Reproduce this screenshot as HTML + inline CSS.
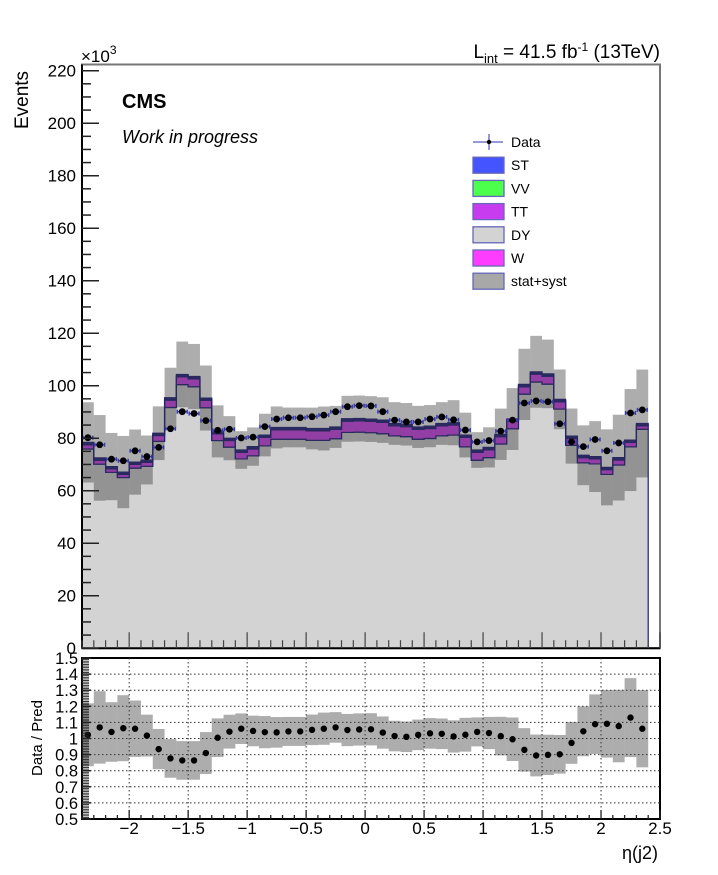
<!DOCTYPE html>
<html><head><meta charset="utf-8"><style>
html,body{margin:0;padding:0;background:#fff}
svg{display:block;font-family:"Liberation Sans",Arial,sans-serif}
</style></head><body>
<svg id="chart" width="718" height="875" viewBox="0 0 718 875">
<g id="main"></g>
<g id="ratio"></g>
<text x="28" y="100" transform="rotate(-90 28 100)" font-size="19" text-anchor="middle">Events</text>
<text x="81" y="62" font-size="17">×10<tspan dy="-8" font-size="12">3</tspan></text>
<text x="122" y="108" font-size="20" font-weight="bold">CMS</text>
<text x="122" y="143" font-size="18" font-style="italic">Work in progress</text>
<text x="660" y="58" font-size="19" text-anchor="end">L<tspan dy="5" font-size="13">int</tspan><tspan dy="-5"> = 41.5 fb</tspan><tspan dy="-7" font-size="12">-1</tspan><tspan dy="7"> (13TeV)</tspan></text>
<text x="42" y="738" transform="rotate(-90 42 738)" font-size="15" text-anchor="middle">Data / Pred</text>
<text x="658" y="859" font-size="18" text-anchor="end">η(j2)</text>
<g id="legend"></g>
</svg>
<script>
const binLo = -2.4, binW = 0.1;
const dyVals = [75.9,70.1,67.0,65.0,68.6,69.3,78.8,91.7,100.4,99.6,91.6,79.1,76.6,72.1,73.3,77.1,79.6,79.6,79.6,79.2,79.2,79.8,82.2,82.3,82.1,81.7,80.9,80.6,79.6,79.9,80.9,81.2,76.7,71.6,72.6,77.8,83.6,96.8,101.4,100.6,91.1,77.3,70.6,70.2,66.2,69.8,76.7,83.4];
const ttVals = [1.6,1.5,1.3,1.2,1.4,1.5,2.2,2.8,3.0,3.0,2.8,2.6,2.5,2.5,2.6,3.2,3.6,3.6,3.6,3.6,3.6,3.6,4.3,4.3,4.3,4.3,3.8,3.8,3.8,3.8,3.8,3.8,3.6,3.0,3.0,2.8,2.8,2.8,3.0,3.0,2.8,2.6,2.0,1.9,1.8,1.9,1.7,1.3];
const vvVals = [0.4,0.4,0.4,0.4,0.4,0.4,0.4,0.4,0.4,0.4,0.4,0.4,0.4,0.4,0.4,0.4,0.4,0.4,0.4,0.4,0.4,0.4,0.4,0.4,0.4,0.4,0.4,0.4,0.4,0.4,0.4,0.4,0.4,0.4,0.4,0.4,0.4,0.4,0.4,0.4,0.4,0.4,0.4,0.4,0.4,0.4,0.4,0.4];
const stVals = [0.5,0.5,0.5,0.5,0.5,0.5,0.5,0.5,0.5,0.5,0.5,0.5,0.5,0.5,0.5,0.5,0.5,0.5,0.5,0.5,0.5,0.5,0.5,0.5,0.5,0.5,0.5,0.5,0.5,0.5,0.5,0.5,0.5,0.5,0.5,0.5,0.5,0.5,0.5,0.5,0.5,0.5,0.5,0.5,0.5,0.5,0.5,0.5];
const dataVals = [80.2,77.5,72.0,71.4,75.2,73.0,76.5,83.6,90.1,89.4,86.7,83.0,83.4,80.1,80.4,84.4,87.3,87.8,87.8,88.2,88.8,90.1,92.0,92.4,92.3,90.1,86.9,86.2,86.2,87.3,88.1,87.0,83.1,78.6,79.1,82.7,86.9,93.4,94.2,93.9,85.5,78.6,76.8,79.5,75.2,78.2,89.6,90.8];
const errFrac = [0.195,0.225,0.185,0.205,0.175,0.13,0.125,0.12,0.12,0.12,0.13,0.12,0.105,0.095,0.095,0.10,0.095,0.09,0.09,0.095,0.10,0.095,0.10,0.10,0.10,0.10,0.095,0.095,0.095,0.095,0.095,0.10,0.105,0.09,0.10,0.12,0.135,0.135,0.13,0.125,0.12,0.13,0.155,0.185,0.21,0.225,0.245,0.24];
const yTicks = [0,20,40,60,80,100,120,140,160,180,200,220];
const rTicks = [0.5,0.6,0.7,0.8,0.9,1,1.1,1.2,1.3,1.4,1.5];
const xTicks = [-2,-1.5,-1,-0.5,0,0.5,1,1.5,2,2.5];

const NS="http://www.w3.org/2000/svg";
const BAND="rgba(60,60,60,0.42)";
const X0=82,X1=660,XMIN=-2.4,XMAX=2.5;
const MT=64.5,MB=648.2,YMAX=(648.2-64.5)/2.625;
const RT=658,RB=819,RMIN=0.5,RMAX=1.5;
const xs=v=>X0+(v-XMIN)/(XMAX-XMIN)*(X1-X0);
const ys=v=>MB-v/YMAX*(MB-MT);
const rs=v=>RB-(v-RMIN)/(RMAX-RMIN)*(RB-RT);
function mk(tag,attrs,parent){const e=document.createElementNS(NS,tag);for(const k in attrs)e.setAttribute(k,attrs[k]);parent.appendChild(e);return e;}
const main=document.getElementById('main'),ratio=document.getElementById('ratio'),legend=document.getElementById('legend');
const n=dyVals.length;
const cum=[dyVals.slice()];
[ttVals,vvVals,stVals].forEach(a=>{const p=cum[cum.length-1];cum.push(p.map((v,i)=>v+a[i]));});
const total=cum[cum.length-1];
function stepPath(lo,hi){
  let d='';
  for(let i=0;i<n;i++){const a=xs(binLo+i*binW),b=xs(binLo+(i+1)*binW);d+=(i?'L':'M')+a+','+ys(hi[i])+'L'+b+','+ys(hi[i]);}
  for(let i=n-1;i>=0;i--){const a=xs(binLo+i*binW),b=xs(binLo+(i+1)*binW);d+='L'+b+','+ys(lo?lo[i]:0)+'L'+a+','+ys(lo?lo[i]:0);}
  return d+'Z';
}
mk('rect',{x:X0,y:MT,width:X1-X0,height:MB-MT,fill:'#fff',stroke:'#777','stroke-width':2},main);
const comps=[[null,cum[0],'#d3d3d3','dy'],[cum[0],cum[1],'#d040f0','tt'],[cum[1],cum[2],'#2f6b3a','vv'],[cum[2],cum[3],'#3a3ab0','st']];
comps.forEach(c=>{const p=mk('path',{d:stepPath(c[0],c[1]),fill:c[2],stroke:'#1d1d7a','stroke-width':1.2},main);

});
for(let i=0;i<n;i++){
  const a=xs(binLo+i*binW),b=xs(binLo+(i+1)*binW);
  const hi=ys(total[i]*(1+errFrac[i])),lo=ys(total[i]*(1-errFrac[i]));
  const r=mk('rect',{x:a,y:hi,width:b-a,height:lo-hi,fill:BAND},main);
  
  
}
for(let i=0;i<n;i++){
  const a=xs(binLo+i*binW),b=xs(binLo+(i+1)*binW),c=(a+b)/2,y=ys(dataVals[i]);
  mk('line',{x1:a+1,x2:b-1,y1:y,y2:y,stroke:'#3b3bb0','stroke-width':1.5},main);
  mk('line',{x1:a+1,x2:a+1,y1:y-2,y2:y+2,stroke:'#3b3bb0','stroke-width':1.5},main);
  mk('line',{x1:b-1,x2:b-1,y1:y-2,y2:y+2,stroke:'#3b3bb0','stroke-width':1.5},main);
  const d=mk('circle',{cx:c,cy:y,r:3.4,fill:'#000'},main);
  
  
}
mk('line',{x1:X0,x2:X0,y1:MT,y2:MB,stroke:'#000','stroke-width':2},main);
mk('line',{x1:X0,x2:X1,y1:MB,y2:MB,stroke:'#000','stroke-width':2},main);
for(let v=0;v<=YMAX;v+=5){const y=ys(v);const maj=v%20===0;mk('line',{x1:X0,x2:X0+(maj?17:9),y1:y,y2:y,stroke:'#222','stroke-width':1.5},main);}
yTicks.forEach(v=>{const t=mk('text',{x:76,y:ys(v)+6,'font-size':17,'text-anchor':'end'},main);t.textContent=v;

});
for(let k=-24;k<=25;k++){const v=k/10,x=xs(v);const maj=k%5===0;mk('line',{x1:x,x2:x,y1:MB,y2:MB-(maj?16:8),stroke:'#444','stroke-width':1.2},main);}
// ratio
mk('rect',{x:X0,y:RT,width:X1-X0,height:RB-RT,fill:'#fff',stroke:'#000','stroke-width':2},ratio);
rTicks.forEach(v=>{if(v>0.5&&v<1.5)mk('line',{x1:X0,x2:X1,y1:rs(v),y2:rs(v),stroke:'#333','stroke-width':1,'stroke-dasharray':'1.5,2.5'},ratio);});
xTicks.forEach(v=>{if(v<2.5)mk('line',{x1:xs(v),x2:xs(v),y1:RT,y2:RB,stroke:'#333','stroke-width':1,'stroke-dasharray':'1.5,2.5'},ratio);});
for(let i=0;i<n;i++){
  const a=xs(binLo+i*binW),b=xs(binLo+(i+1)*binW),r=dataVals[i]/total[i];
  const hi=rs(Math.min(RMAX,r+errFrac[i])),lo=rs(Math.max(RMIN,r-errFrac[i]));
  const e=mk('rect',{x:a,y:hi,width:b-a,height:lo-hi,fill:BAND},ratio);
  
  
}
for(let i=0;i<n;i++){
  const c=xs(binLo+(i+0.5)*binW),r=dataVals[i]/total[i];
  const p=mk('circle',{cx:c,cy:rs(r),r:3.2,fill:'#000'},ratio);
  
  
}
for(let k=50;k<=150;k++){const y=rs(k/100);const maj=k%10===0;mk('line',{x1:X0,x2:X0+(maj?9:7),y1:y,y2:y,stroke:'#222','stroke-width':maj?1.5:0.9},ratio);}
rTicks.forEach(v=>{const t=mk('text',{x:78,y:rs(v)+6,'font-size':16.5,'text-anchor':'end'},ratio);t.textContent=(v===1?'1':v.toFixed(1));

});
for(let k=-24;k<=25;k++){const x=xs(k/10);const maj=k%5===0;mk('line',{x1:x,x2:x,y1:RB,y2:RB-(maj?9:4),stroke:'#222','stroke-width':1.3},ratio);}
xTicks.forEach(v=>{const t=mk('text',{x:xs(v),y:834,'font-size':17,'text-anchor':'middle'},ratio);t.textContent=(v<0?'\u2212':'')+Math.abs(v);

});
// legend
const legNames=['Data','ST','VV','TT','DY','W','stat+syst'];
const legFill=[null,'#4455ff','#4dff4d','#c83cf0','#d3d3d3','#ff3cff','#a8a8a8'];
legNames.forEach((nm,i)=>{
  const y=142+i*23.2;
  const g=mk('g',{},legend);
  
  
  if(i===0){mk('line',{x1:473,x2:503,y1:y,y2:y,stroke:'#7777cc','stroke-width':1.5},g);mk('line',{x1:489,x2:489,y1:y-8,y2:y+8,stroke:'#7777cc','stroke-width':1.5},g);mk('circle',{cx:489,cy:y,r:2.2,fill:'#000'},g);}
  else{mk('rect',{x:473,y:y-8,width:31,height:16,fill:legFill[i],stroke:'#6666bb','stroke-width':1.3},g);}
  const t=mk('text',{x:511,y:y+5,'font-size':14},g);t.textContent=nm;
});
</script>
</body></html>
